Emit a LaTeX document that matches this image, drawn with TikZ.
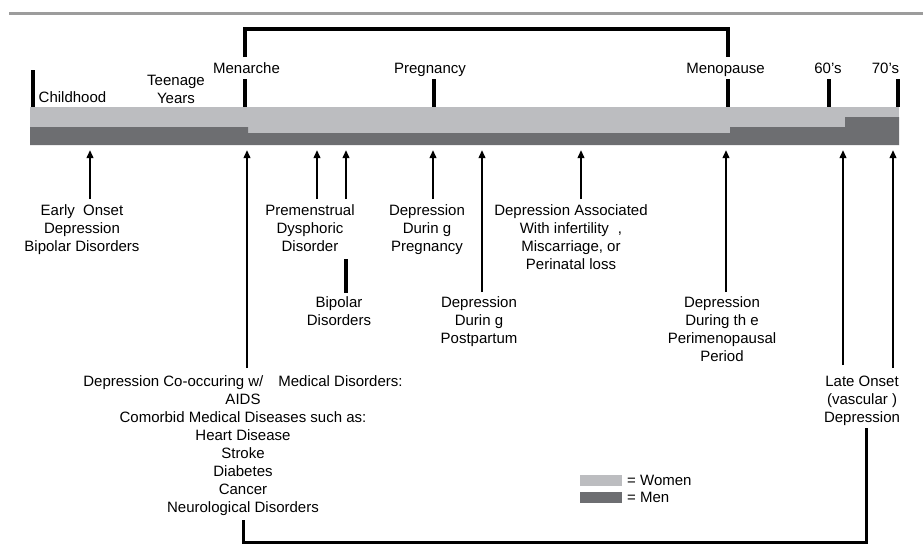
\documentclass[tikz,border=0pt]{standalone}
\usepackage{fontspec}
\setmainfont{Liberation Sans}
\usetikzlibrary{arrows.meta}
\definecolor{women}{HTML}{BCBDC0}
\definecolor{men}{HTML}{6D6E71}
\definecolor{rulegray}{HTML}{9C9C9C}
\begin{document}
\begin{tikzpicture}[x=1pt,y=-1pt,
  lbl/.style={font=\fontsize{15}{18}\selectfont, align=center, inner sep=0pt, anchor=base},
  arr/.style={line width=2pt, -{Triangle[length=8pt,width=6.5pt]}},
  tickmark/.style={line width=4pt},
  brk/.style={line width=3.5pt, line join=miter},
  conn/.style={line width=3pt, line join=miter}]
\useasboundingbox[fill=white] (0,0) rectangle (923,544);
% top rule
\coordinate (r1) at (9,13); \coordinate (r2) at (923,13);
\draw[rulegray, line width=3pt] (r1) -- (r2);
% bar
\fill[women] (30,107) rectangle (899,145);
\fill[men] (30,127) -- (248,127) -- (248,133) -- (730,133) -- (730,127) -- (845,127)
  -- (845,117) -- (899,117) -- (899,145) -- (30,145) -- cycle;
% top labels (base = baseline of last line)
\node[lbl] (child) at (72.5,102.4) {Childhood};
\node[lbl] (teen) at (176,103.4) {Teenage\\Years};
\node[lbl] (menar) at (246.5,73.4) {Menarche};
\node[lbl] (preg) at (430,73.4) {Pregnancy};
\node[lbl] (meno) at (725.5,73.4) {Menopause};
\node[lbl] (s60) at (828,73.4) {60's};
\node[lbl] (s70) at (885.5,73.4) {70's};
% ticks
\coordinate (tc1) at (33,70);  \coordinate (tc2) at (33,107);
\coordinate (tm1) at (245,79); \coordinate (tm2) at (245,107);
\coordinate (tp1) at (434,79); \coordinate (tp2) at (434,107);
\coordinate (to1) at (728,79); \coordinate (to2) at (728,107);
\coordinate (t61) at (829,79); \coordinate (t62) at (829,107);
\coordinate (t71) at (898,79); \coordinate (t72) at (898,107);
\foreach \a/\b in {tc1/tc2,tm1/tm2,tp1/tp2,to1/to2,t61/t62,t71/t72}
  \draw[tickmark] (\a) -- (\b);
% top bracket
\coordinate (k1) at (245,57); \coordinate (k2) at (245,29);
\coordinate (k3) at (728,29); \coordinate (k4) at (728,57);
\draw[brk] (k1) -- (k2) -- (k3) -- (k4);
% lower labels
\node[lbl] (early) at (82,251.4) {Early\ \ Onset\\Depression\\Bipolar Disorders};
\node[lbl] (med) at (243,512.4) {Depression Co-occuring w/\hspace{15pt}Medical Disorders:\\AIDS\\Comorbid Medical Diseases such as:\\Heart Disease\\Stroke\\Diabetes\\Cancer\\Neurological Disorders};
\node[lbl] (pmdd) at (310,251.4) {Premenstrual\\Dysphoric\\Disorder};
\node[lbl] (bip) at (339,325.4) {Bipolar\\Disorders};
\node[lbl] (dpreg) at (427,251.4) {Depression\\Durin g\\Pregnancy};
\node[lbl] (dpost) at (479,343.4) {Depression\\Durin g\\Postpartum};
\node[lbl] (dassoc) at (571,269.4) {Depression Associated\\With infertility\hspace{9pt},\\Miscarriage, or\\Perinatal loss};
\node[lbl] (dperi) at (722,361.4) {Depression\\During th e\\Perimenopausal\\Period};
\node[lbl] (late) at (862,422.4) {Late Onset\\(vascular )\\Depression};
% arrows
\coordinate (a1s) at (90,199);  \coordinate (a1e) at (90,150);
\coordinate (a2s) at (247,368); \coordinate (a2e) at (247,150);
\coordinate (a3s) at (317,199); \coordinate (a3e) at (317,150);
\coordinate (a4s) at (346,199); \coordinate (a4e) at (346,150);
\coordinate (a5s) at (433,199); \coordinate (a5e) at (433,150);
\coordinate (a6s) at (482,292); \coordinate (a6e) at (482,150);
\coordinate (a7s) at (581,199); \coordinate (a7e) at (581,150);
\coordinate (a8s) at (726,292); \coordinate (a8e) at (726,150);
\coordinate (a9s) at (843,365); \coordinate (a9e) at (843,150);
\coordinate (a10s) at (893,368); \coordinate (a10e) at (893,150);
\foreach \i in {1,...,10}
  \draw[arr] (a\i s) -- (a\i e);
% bipolar link
\coordinate (bl1) at (346,259); \coordinate (bl2) at (346,293);
\draw[tickmark] (bl1) -- (bl2);
% bottom connector
\coordinate (c1) at (243,520); \coordinate (c2) at (243,542);
\coordinate (c3) at (866,542); \coordinate (c4) at (866,428);
\draw[conn] (c1) -- (c2) -- (c3) -- (c4);
% legend
\fill[women] (580,475) rectangle (622,486);
\fill[men] (580,492) rectangle (622,503);
\node[lbl, anchor=base west] (lw) at (627,485.9) {= Women};
\node[lbl, anchor=base west] (lm) at (627,502.9) {= Men};
\end{tikzpicture}
\end{document}
